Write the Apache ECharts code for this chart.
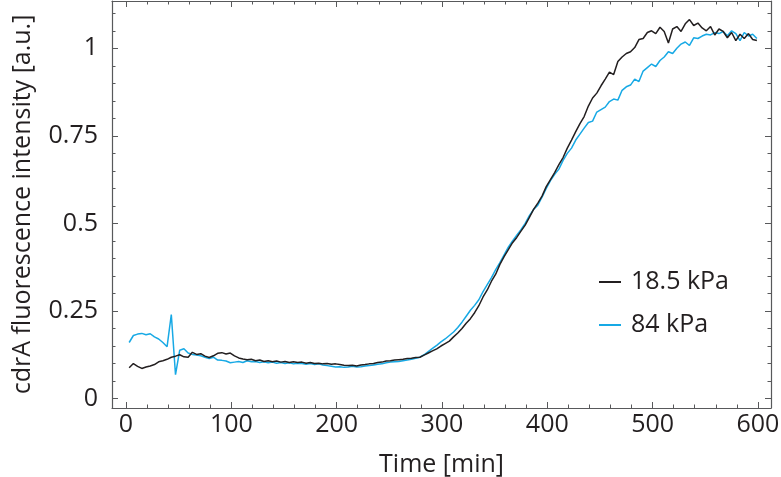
<!DOCTYPE html>
<html>
<head>
<meta charset="utf-8">
<script src="https://cdn.jsdelivr.net/npm/echarts@6/dist/echarts.min.js"></script>
<style>
html,body{margin:0;padding:0;background:#fff;}
#chart{width:781px;height:477px;}
</style>
</head>
<body>
<div id="chart"></div>
<script>
// ---------- data ----------
const time = [3,7,11,15,19,23,27,31,35,39,43,47,51,55,59,63,67,71,75,79,83,87,91,95,99,103,107,111,115,119,
123,127,131,135,139,143,147,151,155,159,163,167,171,175,179,183,187,191,195,199,203,207,211,215,219,223,227,231,235,239,
243,247,251,255,259,263,267,271,275,279,283,287,291,295,299,303,307,311,315,319,323,327,331,335,339,343,347,351,355,359,
363,367,371,375,379,383,387,391,395,399,403,407,411,415,419,423,427,431,435,439,443,447,451,455,459,463,467,471,475,479,
483,487,491,495,499,503,507,511,515,519,523,527,531,535,539,543,547,551,555,559,563,567,571,575,579,583,587,591,595,599];

const kPa18 = [0.088,0.100,0.092,0.086,0.090,0.093,0.097,0.105,0.108,0.112,0.118,0.121,0.125,0.119,0.118,0.132,0.126,0.128,0.121,0.117,
0.122,0.129,0.131,0.127,0.130,0.122,0.116,0.113,0.111,0.112,
0.108,0.110,0.106,0.108,0.105,0.107,0.104,0.106,0.103,0.105,0.103,0.104,0.101,0.103,0.100,0.101,0.099,0.100,0.098,0.099,
0.097,0.095,0.094,0.095,0.093,0.096,0.097,0.099,0.100,0.103,
0.104,0.107,0.108,0.110,0.111,0.112,0.114,0.115,0.117,0.118,0.124,0.130,0.136,0.142,0.150,0.157,0.164,0.176,0.187,0.200,
0.215,0.228,0.245,0.265,0.290,0.310,0.335,0.355,0.383,0.405,
0.425,0.445,0.460,0.478,0.495,0.517,0.540,0.558,0.578,0.605,0.625,0.645,0.668,0.688,0.715,0.738,0.762,0.785,0.805,0.835,
0.858,0.872,0.893,0.912,0.932,0.925,0.962,0.975,0.985,0.990,
1.002,1.025,1.028,1.045,1.050,1.042,1.060,1.048,1.015,1.055,1.062,1.048,1.070,1.082,1.065,1.072,1.058,1.050,1.062,1.038,
1.055,1.048,1.030,1.045,1.022,1.040,1.028,1.042,1.025,1.022];

const kPa84 = [0.160,0.180,0.184,0.186,0.182,0.185,0.176,0.170,0.160,0.148,0.240,0.068,0.138,0.142,0.130,0.126,0.124,0.122,0.118,0.114,
0.118,0.110,0.109,0.107,0.102,0.104,0.106,0.103,0.108,0.105,
0.106,0.103,0.105,0.102,0.104,0.101,0.103,0.100,0.102,0.099,0.101,0.100,0.098,0.100,0.097,0.099,0.096,0.094,0.092,0.090,
0.091,0.089,0.090,0.092,0.090,0.091,0.093,0.094,0.096,0.098,
0.099,0.102,0.104,0.105,0.106,0.108,0.110,0.112,0.115,0.118,0.125,0.134,0.143,0.152,0.162,0.170,0.180,0.190,0.203,0.218,
0.235,0.252,0.266,0.282,0.305,0.325,0.345,0.368,0.388,0.410,
0.432,0.450,0.466,0.482,0.500,0.522,0.540,0.552,0.575,0.600,0.622,0.640,0.655,0.680,0.700,0.715,0.738,0.755,0.772,0.788,
0.792,0.818,0.825,0.832,0.848,0.855,0.852,0.880,0.890,0.895,
0.912,0.905,0.935,0.945,0.955,0.948,0.965,0.975,0.990,0.985,1.000,1.012,1.018,1.008,1.030,1.028,1.035,1.040,1.038,1.045,
1.042,1.048,1.036,1.050,1.042,1.022,1.045,1.035,1.040,1.028];

const seriesNames = ['18.5 kPa', '84 kPa'];
const xMajor = [0, 100, 200, 300, 400, 500, 600];
const xMinor = [20,40,60,80,120,140,160,180,220,240,260,280,320,340,360,380,420,440,460,480,520,540,560,580];
const yMajor = [0, 0.25, 0.5, 0.75, 1];
const yMinor = [0.05,0.1,0.15,0.2,0.3,0.35,0.4,0.45,0.55,0.6,0.65,0.7,0.8,0.85,0.9,0.95,1.05,1.1];

// ---------- chart ----------
const X_MIN = -13.3, X_MAX = 612.4, Y_MIN = -0.027, Y_MAX = 1.135;
const FONT = '"Open Sans", "Noto Sans", sans-serif';
const AX = '#58595b', TXT = '#231f20';

function pair(xs, ys){ return xs.map((x,i)=>[x, ys[i]]); }

function xAx(pos, ticks, len, main){
  return {
    type:'value', position:pos, min:X_MIN, max:X_MAX,
    axisLine:{show:main, onZero:false, lineStyle:{color:AX, width:1.2}},
    axisTick:{show:true, inside:true, length:len, customValues:ticks, lineStyle:{color:AX, width:1}},
    axisLabel: (pos==='bottom' && main) ? {show:true, customValues:xMajor, fontSize:25, fontFamily:FONT, color:TXT, margin:4} : {show:false},
    splitLine:{show:false},
    name: (pos==='bottom' && main) ? 'Time [min]' : '',
    nameLocation:'middle', nameGap:44,
    nameTextStyle:{fontSize:25, fontFamily:FONT, color:TXT}
  };
}
function yAx(pos, ticks, len, main){
  return {
    type:'value', position:pos, min:Y_MIN, max:Y_MAX,
    axisLine:{show:main, onZero:false, lineStyle:{color:AX, width:1.2}},
    axisTick:{show:true, inside:true, length:len, customValues:ticks, lineStyle:{color:AX, width:1}},
    axisLabel: (pos==='left' && main) ? {show:true, customValues:yMajor, fontSize:25, fontFamily:FONT, color:TXT, margin:14} : {show:false},
    splitLine:{show:false},
    name: (pos==='left' && main) ? 'cdrA fluorescence intensity [a.u.]' : '',
    nameLocation:'middle', nameGap:77, nameRotate:90,
    nameTextStyle:{fontSize:25, fontFamily:FONT, color:TXT}
  };
}

const chart = echarts.init(document.getElementById('chart'), null, {renderer:'canvas'});
chart.setOption({
  animation:false,
  backgroundColor:'#fff',
  grid:{left:112, right:10, top:1, bottom:69, containLabel:false, outerBoundsMode:'none'},
  xAxis:[ xAx('bottom', xMajor, 6, true), xAx('bottom', xMinor, 3.5, false),
          xAx('top', xMajor, 6, true), xAx('top', xMinor, 3.5, false) ],
  yAxis:[ yAx('left', yMajor, 6, true), yAx('left', yMinor, 3.5, false),
          yAx('right', yMajor, 6, true), yAx('right', yMinor, 3.5, false) ],
  legend:{
    orient:'vertical', left:594, top:262,
    itemWidth:22, itemHeight:2, itemGap:13, icon:'rect',
    textStyle:{fontSize:25, fontFamily:FONT, color:TXT, lineHeight:30, padding:[0,0,0,5]},
    data: seriesNames
  },
  series:[
    {name:seriesNames[0], type:'line', data:pair(time,kPa18), showSymbol:false, symbol:'none',
     lineStyle:{color:'#231f20', width:1.5}, itemStyle:{color:'#231f20'}, z:3},
    {name:seriesNames[1], type:'line', data:pair(time,kPa84), showSymbol:false, symbol:'none',
     lineStyle:{color:'#17a9e5', width:1.5}, itemStyle:{color:'#17a9e5'}, z:2}
  ]
});
</script>
</body>
</html>
